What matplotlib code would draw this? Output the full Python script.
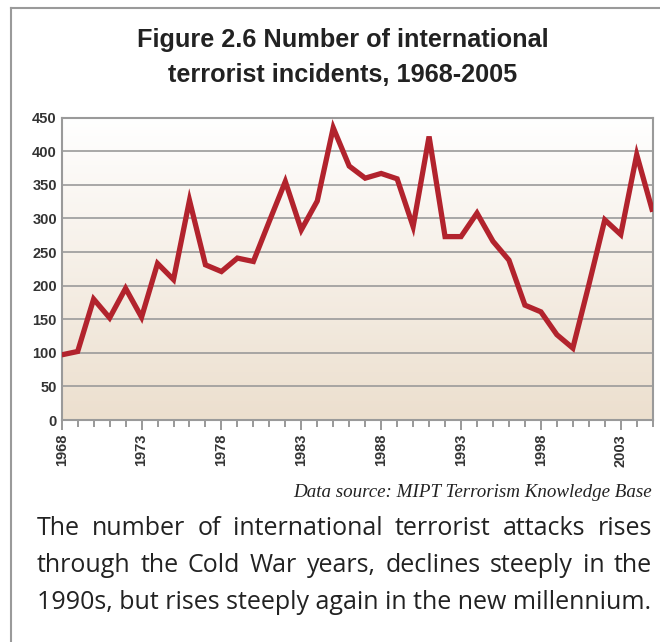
import matplotlib
matplotlib.use("Agg")
import matplotlib.pyplot as plt
import numpy as np
from matplotlib.lines import Line2D

# Annual count of international terrorist incidents
years = list(range(1968, 2006))
incidents = [97, 102, 180, 152, 196, 153, 233, 209, 327, 231,
             221, 241, 236, 296, 355, 283, 326, 435, 378, 360,
             367, 359, 288, 422, 273, 273, 308, 266, 238, 171,
             161, 127, 107, 201, 298, 276, 395, 310]

y_ticks = [0, 50, 100, 150, 200, 250, 300, 350, 400, 450]
x_label_years = [1968, 1973, 1978, 1983, 1988, 1993, 1998, 2003]

title_lines = ["Figure 2.6 Number of international",
               "terrorist incidents, 1968-2005"]
source_text = "Data source: MIPT Terrorism Knowledge Base"
caption_lines = ["The number of international terrorist attacks rises",
                 "through the Cold War years, declines steeply in the",
                 "1990s, but rises steeply again in the new millennium."]

W, H = 660, 642
fig = plt.figure(figsize=(W / 100, H / 100), dpi=100)
fig.patch.set_facecolor("white")


def fx(px):
    return px / W


def fy(py):
    return 1 - py / H


# Plot area
ax_l, ax_r, ax_t, ax_b = 61.7, 652.7, 117.7, 420.0
ax = fig.add_axes([fx(ax_l), fy(ax_b), (ax_r - ax_l) / W, (ax_b - ax_t) / H])

# Vertical white-to-beige gradient background
top_c = np.array([255, 255, 255]) / 255
bot_c = np.array([236, 223, 206]) / 255
t = np.linspace(0, 1, 256)[:, None]
grad = (top_c[None, :] * (1 - t) + bot_c[None, :] * t)[:, None, :]
ax.imshow(grad, extent=[years[0], years[-1], 0, 450], aspect="auto",
          origin="upper", zorder=0, interpolation="bilinear")

ax.plot(years, incidents, color="#B2232D", lw=3.8,
        solid_joinstyle="miter", solid_capstyle="butt", zorder=3)

ax.set_xlim(years[0], years[-1])
ax.set_ylim(0, 450)

grey = "#9a9a9a"
ax.set_yticks(y_ticks)
ax.yaxis.grid(True, color=grey, lw=1.2)
ax.set_axisbelow(True)
for sp in ax.spines.values():
    sp.set_color(grey)
    sp.set_linewidth(1.5)

ax.set_xticks(x_label_years)
ax.set_xticks(years, minor=True)
ax.tick_params(axis="x", which="major", length=7, width=1.2, color="#888888",
               pad=3, labelrotation=90)
ax.tick_params(axis="x", which="minor", length=5, width=1.2, color="#888888")
ax.tick_params(axis="y", length=0, pad=3.5)

label_font = dict(family=["Liberation Sans", "DejaVu Sans"], weight="bold",
                  size=10.5)
ax.set_xticklabels([str(y) for y in x_label_years], color="#333333",
                   **label_font)
ax.set_yticklabels([str(v) for v in y_ticks], color="#333333", **label_font)

# Outer frame: left and top rules
fig.add_artist(Line2D([fx(11), fx(11)], [0, fy(8)], transform=fig.transFigure,
                      color="#9a9a9a", lw=1.5))
fig.add_artist(Line2D([fx(11), 1], [fy(8), fy(8)], transform=fig.transFigure,
                      color="#9a9a9a", lw=1.5))

fig.canvas.draw()
renderer = fig.canvas.get_renderer()


def fit_width(txt, width_px):
    bb = txt.get_window_extent(renderer)
    txt.set_fontsize(txt.get_fontsize() * width_px / bb.width)


# Title
title_font = dict(family=["Liberation Sans", "DejaVu Sans"], weight="bold",
                  color="#222222", ha="center", va="baseline")
t1 = fig.text(fx(342.5), fy(47), title_lines[0], fontsize=16, **title_font)
fit_width(t1, 411)
t2 = fig.text(fx(342.5), fy(82), title_lines[1],
              fontsize=t1.get_fontsize(), **title_font)

# Source note
src = fig.text(fx(652), fy(497), source_text, fontsize=12,
               family=["Liberation Serif", "DejaVu Serif"], style="italic",
               color="#222222", ha="right", va="baseline")
fit_width(src, 360)

# Caption, justified
cap_font = dict(family=["Open Sans", "DejaVu Sans"], color="#222222",
                va="baseline", ha="left")
x0, x1 = 37, 652
baselines = [535, 572, 609]
last = fig.text(fx(x0), fy(baselines[2]), caption_lines[2], fontsize=15,
                **cap_font)
fit_width(last, 613)
cap_size = last.get_fontsize()

for line, yb in zip(caption_lines[:2], baselines[:2]):
    words = line.split()
    arts = [fig.text(0, fy(yb), w, fontsize=cap_size, **cap_font)
            for w in words]
    widths = [a.get_window_extent(renderer).width for a in arts]
    gap = (x1 - x0 - sum(widths)) / (len(words) - 1)
    x = x0
    for a, wd in zip(arts, widths):
        a.set_x(fx(x))
        x += wd + gap

fig.savefig("out.png", dpi=100, facecolor="white")
